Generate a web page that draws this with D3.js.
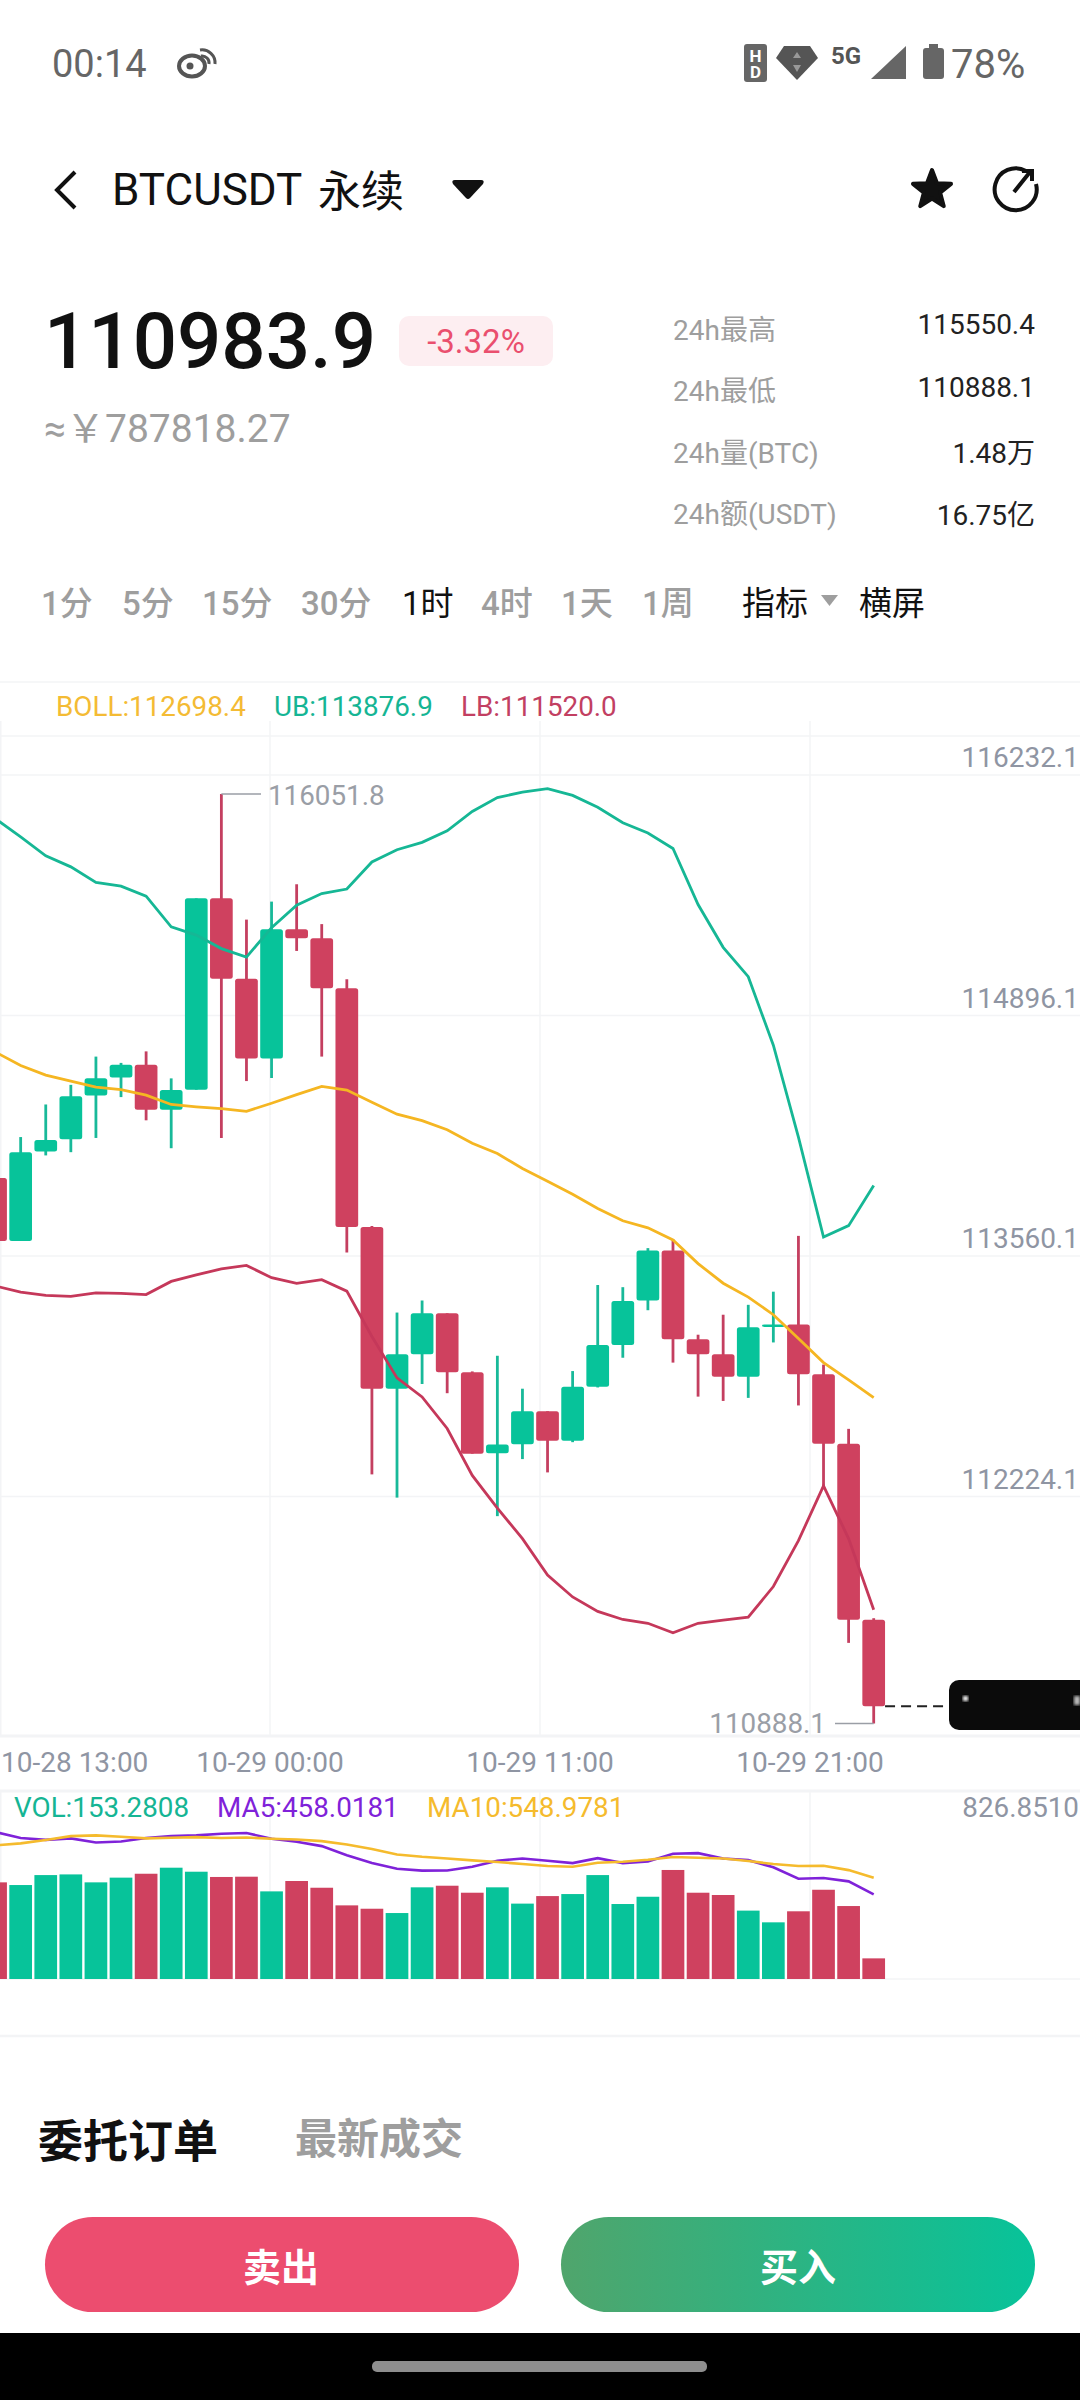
<!DOCTYPE html>
<html lang="zh-CN">
<head>
    <meta charset="UTF-8" />
    <title>BTCUSDT 永续</title>
    <style>
        html, body { margin: 0; padding: 0; background: #fff; }
        svg { display: block; }
        text { font-family: Roboto, "Noto Sans CJK SC", sans-serif; }
    </style>
</head>
<body>
    <svg id="svg" width="1080" height="2400"></svg>
    <script src="https://cdn.jsdelivr.net/npm/d3@7"></script>
    <script>
        // one candle per hour (first one is cut by the left edge)
        const opens = [113919,113569,114066,114134,114377,114477,114547,114298,114409,115472,115025,114583,115300,115250,114973,113647,112748,112940,113167,112840,112389,112440,112623,112459,112759,112991,113238,113516,113023,112940,112814,113093,113105,112829,112442,111464];
        const closes = [113569,114062,114130,114373,114472,114547,114298,114407,115472,115025,114583,115300,115250,114973,113647,112748,112940,113167,112840,112387,112438,112623,112459,112759,112991,113235,113516,113023,112940,112814,113089,113105,112829,112442,111464,110983.9];
        const highs = [113991,114146,114327,114436,114593,114558,114622,114472,115472,116051.8,115354,115454,115550.4,115329,115023,113652,113171,113238,113167,112844,112931,112748,112623,112846,113324,113312,113529,113578,113048,113159,113214,113287,113597,112882,112525,111473];
        const lows = [113519,113569,114044,114062,114141,114368,114239,114084,114409,114141,114457,114474,115180,114593,113504,112272,112143,112774,112723,112387,112040,112357,112283,112451,112755,112920,113184,112893,112704,112680,112697,113005,112655,112202,111336,110888.1];

        const bollUb = [115914,115813,115708,115647,115561,115540,115484,115314,115268,115193,115146,115309,115434,115499,115524,115674,115742,115783,115847,115955,116032,116062,116082,116044,115978,115892,115835,115749,115438,115200,115037,114656,114146,113590,113654,113876.9];
        const bollMid = [114618,114543,114490,114457,114423,114409,114379,114327,114314,114304,114289,114334,114382,114427,114407,114339,114273,114237,114187,114112,114055,113971,113901,113828,113749,113681,113642,113574,113443,113334,113257,113159,113027,112893,112797,112698.4];
        const bollLb = [113318,113284,113267,113261,113280,113278,113271,113344,113380,113414,113433,113365,113333,113354,113290,113038,112808,112702,112527,112266,112085,111915,111713,111591,111511,111466,111445,111392,111445,111462,111479,111649,111904,112208,111915,111520.0];

        const volumes = [718,698,772,777,718,753,782,826.851,797,758,760,651,728,678,547,522,490,681,693,641,681,560,616,631,772,557,611,810,641,624,508,421,503,663,542,153.2808];
        const ma5 = [796,764,754,762,740,745,764,774,778,787,791,760,744,720,671,628,597,587,588,608,641,653,641,628,655,628,637,679,682,653,644,605,543,547,529,458.0181];
        const ma10 = [724,735,753,774,778,771,762,765,769,764,767,760,756,747,729,704,675,662,653,643,634,623,612,608,630,635,646,661,657,653,639,623,612,614,590,548.9781];

        const priceTicks = [116232.1, 114896.1, 113560.1, 112224.1];
        const timeLabels = ["10-28 13:00", "10-29 00:00", "10-29 11:00", "10-29 21:00"];
        const intervals = ["1分", "5分", "15分", "30分", "1时", "4时", "1天", "1周"];
        const statNames = ["24h最高", "24h最低", "24h量(BTC)", "24h额(USDT)"];
        const statValues = ["115550.4", "110888.1", "1.48万", "16.75亿"];

        const GREEN = "#07c39a", RED = "#cf415f", GRID = "#f3f4f6";
        const AXIS_TEXT = "#8f95a3", LIGHT = "#9e9e9e";

        const svg = d3.select("#svg");
        const defs = svg.append("defs");

        function label(parent, x, y, str, size, fill, anchor, weight) {
            return parent.append("text")
                .attr("x", x).attr("y", y)
                .attr("font-size", size)
                .attr("fill", fill)
                .attr("text-anchor", anchor || "start")
                .attr("font-weight", weight || 400)
                .text(str);
        }

        // scales
        const x = d3.scaleLinear().domain([0, 35]).range([-4.43, 873.7]);
        const gridX = d3.scaleLinear().domain([0, 4]).range([0, 1080]);
        const y = d3.scaleLinear().domain([110888.1, 116051.8]).range([1723.5, 794]);
        const yVol = d3.scaleLinear().domain([0, 826.851]).range([1979, 1867.7]);
        const yMa = d3.scaleLinear().domain([0, 826.851]).range([1979, 1826.4]);
        const bodyW = 22.7;
        const idx = d3.range(opens.length);
        const isUp = (i) => closes[i] >= opens[i];

        // ---------- status bar and header
        const head = svg.append("g");
        label(head, 52, 77, "00:14", 38, "#666");
        // weibo icon
        const wb = head.append("g").attr("stroke", "#555").attr("fill", "none");
        wb.append("ellipse").attr("cx", 192).attr("cy", 66).attr("rx", 13).attr("ry", 10.5).attr("stroke-width", 4);
        wb.append("circle").attr("cx", 190).attr("cy", 66).attr("r", 3.5).attr("fill", "#555").attr("stroke", "none");
        wb.append("path").attr("d", "M200 50 a13 13 0 0 1 15 14").attr("stroke-width", 3);
        wb.append("path").attr("d", "M201 56 a7 7 0 0 1 8 8").attr("stroke-width", 3);
        // HD
        head.append("rect").attr("x", 744).attr("y", 44).attr("width", 23).attr("height", 38).attr("rx", 3).attr("fill", "#666");
        label(head, 755.5, 62, "H", 17, "#fff", "middle", 700);
        label(head, 755.5, 78, "D", 17, "#fff", "middle", 700);
        // wifi diamond
        head.append("path").attr("d", "M784 46 H810 L818 58 L797 80 L776 58 Z").attr("fill", "#555");
        head.append("path").attr("d", "M797 52 L801 58 H793 Z M797 72 L801 65 H793 Z").attr("fill", "#999");
        label(head, 831, 64, "5G", 24, "#555", "start", 700);
        head.append("path").attr("d", "M906 46 V79 H871 Z").attr("fill", "#666");
        // battery
        head.append("rect").attr("x", 929).attr("y", 44).attr("width", 9).attr("height", 5).attr("fill", "#666");
        head.append("rect").attr("x", 923).attr("y", 48).attr("width", 21).attr("height", 31).attr("rx", 3).attr("fill", "#666");
        label(head, 951, 78, "78%", 40, "#666");

        // back, title, dropdown
        head.append("path").attr("d", "M75 172 L57 190 L75 208").attr("fill", "none").attr("stroke", "#111").attr("stroke-width", 4);
        label(head, 112, 205, "BTCUSDT", 44, "#111");
        label(head, 318, 207, "永续", 43, "#111");
        head.append("path").attr("d", "M455 180 H481 Q485 180 483 184 L470 198 Q468 200 466 198 L453 184 Q451 180 455 180 Z").attr("fill", "#111");
        // star
        const star = d3.range(10).map((i) => {
            const r = i % 2 ? 8.5 : 20, a = -Math.PI / 2 + i * Math.PI / 5;
            return [932 + r * Math.cos(a), 190 + r * Math.sin(a)];
        });
        head.append("path").attr("d", d3.line().curve(d3.curveLinearClosed)(star))
            .attr("fill", "#111").attr("stroke", "#111").attr("stroke-width", 4).attr("stroke-linejoin", "round");
        // share
        head.append("path").attr("d", "M1026 171 A21 21 0 1 0 1036 184").attr("fill", "none").attr("stroke", "#111").attr("stroke-width", 4);
        head.append("path").attr("d", "M1014 192 L1030 172 M1022 171 H1032 V181").attr("fill", "none").attr("stroke", "#111").attr("stroke-width", 4);

        // ---------- price block
        label(head, 44, 368, "110983.9", 78, "#111", "start", 500);
        head.append("rect").attr("x", 399).attr("y", 316).attr("width", 154).attr("height", 50).attr("rx", 10).attr("fill", "#fdeef1");
        label(head, 476, 353, "-3.32%", 33, "#ea4f6e", "middle");
        label(head, 44, 442, "≈￥787818.27", 39, LIGHT);

        const statLabelY = [340, 401, 463, 524];
        const statValueY = [334, 397, 463, 525];
        statNames.forEach((s, i) => {
            label(head, 673, statLabelY[i], s, 28, LIGHT);
            label(head, 1035, statValueY[i], statValues[i], 28, "#222", "end");
        });

        // ---------- interval tabs
        const intervalX = [41, 122, 202, 301, 402, 481, 561, 642];
        intervals.forEach((s, i) => {
            label(head, intervalX[i], 615, s, 33, i === 4 ? "#111" : LIGHT, "start", i === 4 ? 400 : 500);
        });
        label(head, 742, 615, "指标", 33, "#111");
        head.append("path").attr("d", "M821 595 H838 L829.5 606 Z").attr("fill", LIGHT);
        label(head, 859, 615, "横屏", 33, "#111");

        // ---------- grid
        const grid = svg.append("g");
        const hLine = (yy, w) => grid.append("line").attr("x1", 0).attr("x2", 1080)
            .attr("y1", yy).attr("y2", yy).attr("stroke", GRID).attr("stroke-width", w || 1.5);
        hLine(682); hLine(736); hLine(1736, 3); hLine(1791, 3); hLine(1979); hLine(2036, 2.5);
        // grid rows sit a little below the price they are labelled with
        const gridOffset = 13.5;
        priceTicks.forEach((p) => hLine(y(p) + gridOffset));
        d3.range(0, 4).forEach((k) => {
            const xx = Math.max(gridX(k), 0.75);
            grid.append("line").attr("x1", xx).attr("x2", xx).attr("y1", 721).attr("y2", 1736)
                .attr("stroke", GRID).attr("stroke-width", 1.5);
            grid.append("line").attr("x1", xx).attr("x2", xx).attr("y1", 1791).attr("y2", 1979)
                .attr("stroke", GRID).attr("stroke-width", 1.5);
        });

        // ---------- legend of main chart
        label(svg, 56, 716, "BOLL:112698.4", 27.8, "#f4bb34");
        label(svg, 274, 716, "UB:113876.9", 27.8, "#15b594");
        label(svg, 461, 716, "LB:111520.0", 27.8, "#c23f62");

        // ---------- price axis (right)
        const axis = d3.axisRight(y).tickValues(priceTicks).tickSize(0).tickFormat(d3.format(".1f"));
        const axisG = svg.append("g").attr("transform", "translate(1079,0)").call(axis);
        axisG.select(".domain").remove();
        axisG.selectAll("text")
            .attr("x", 0).attr("dy", "0.18em")
            .attr("text-anchor", "end")
            .attr("fill", AXIS_TEXT).attr("font-size", 28)
            .style("font-family", 'Roboto, "Noto Sans CJK SC", sans-serif');

        // ---------- candles
        const candles = svg.append("g");
        candles.selectAll("line").data(idx).enter().append("line")
            .attr("x1", (i) => x(i)).attr("x2", (i) => x(i))
            .attr("y1", (i) => y(highs[i])).attr("y2", (i) => y(lows[i]))
            .attr("stroke", (i) => isUp(i) ? "#18b999" : "#c43f60")
            .attr("stroke-width", 2.8);
        candles.selectAll("rect").data(idx).enter().append("rect")
            .attr("x", (i) => x(i) - bodyW / 2)
            .attr("width", bodyW)
            .attr("y", (i) => y(Math.max(opens[i], closes[i])))
            .attr("height", (i) => Math.max(2.5, Math.abs(y(opens[i]) - y(closes[i]))))
            .attr("rx", 2.5)
            .attr("fill", (i) => isUp(i) ? GREEN : RED);

        // ---------- bollinger lines
        const priceLine = d3.line().x((d, i) => x(i)).y((d) => y(d));
        [[bollUb, "#16b795"], [bollMid, "#f5b622"], [bollLb, "#c5385a"]].forEach(([s, c]) => {
            svg.append("path").attr("d", priceLine(s))
                .attr("fill", "none").attr("stroke", c).attr("stroke-width", 2.8);
        });

        // ---------- high / low markers
        const markColor = "#9a9ea6";
        svg.append("line").attr("x1", x(9)).attr("x2", 261).attr("y1", y(116051.8)).attr("y2", y(116051.8))
            .attr("stroke", markColor).attr("stroke-width", 1.6);
        label(svg, 268, y(116051.8) + 10.5, "116051.8", 27.8, markColor);
        svg.append("line").attr("x1", 835).attr("x2", x(35)).attr("y1", y(110888.1)).attr("y2", y(110888.1))
            .attr("stroke", markColor).attr("stroke-width", 1.6);
        label(svg, 826, y(110888.1) + 9.5, "110888.1", 27.8, markColor, "end");

        // ---------- last price marker
        const lastY = y(closes[35]);
        svg.append("line").attr("x1", x(35) + bodyW / 2).attr("x2", 949).attr("y1", lastY).attr("y2", lastY)
            .attr("stroke", "#222").attr("stroke-width", 1.8).attr("stroke-dasharray", "10 6");
        svg.append("rect").attr("x", 949).attr("y", 1680).attr("width", 140).attr("height", 50).attr("rx", 10).attr("fill", "#0b0b0b");
        defs.append("filter").attr("id", "soft").append("feGaussianBlur").attr("stdDeviation", 1.6);
        svg.append("rect").attr("x", 963).attr("y", 1696).attr("width", 5).attr("height", 5).attr("fill", "#fff").attr("filter", "url(#soft)");
        svg.append("rect").attr("x", 1074).attr("y", 1696).attr("width", 6).attr("height", 9).attr("fill", "#bbb").attr("filter", "url(#soft)");

        // ---------- time labels
        timeLabels.forEach((s, k) => {
            if (k === 0) label(svg, 1, 1772, s, 28, AXIS_TEXT);
            else label(svg, gridX(k), 1772, s, 28, AXIS_TEXT, "middle");
        });

        // ---------- volume panel
        label(svg, 14, 1817, "VOL:153.2808", 27.8, "#15b594");
        label(svg, 217, 1817, "MA5:458.0181", 27.8, "#7f22d9");
        label(svg, 427, 1817, "MA10:548.9781", 27.8, "#f5bb2d");
        label(svg, 1079, 1817, "826.8510", 27.8, AXIS_TEXT, "end");

        svg.append("g").selectAll("rect").data(idx).enter().append("rect")
            .attr("x", (i) => x(i) - bodyW / 2)
            .attr("width", bodyW)
            .attr("y", (i) => yVol(volumes[i]))
            .attr("height", (i) => yVol(0) - yVol(volumes[i]))
            .attr("fill", (i) => isUp(i) ? GREEN : RED);

        const maLine = d3.line().x((d, i) => x(i)).y((d) => yMa(d));
        svg.append("path").attr("d", maLine(ma5)).attr("fill", "none").attr("stroke", "#7f22d9").attr("stroke-width", 2.6);
        svg.append("path").attr("d", maLine(ma10)).attr("fill", "none").attr("stroke", "#f5bb2d").attr("stroke-width", 2.6);

        // ---------- bottom tabs and buttons
        label(svg, 38, 2158, "委托订单", 45, "#111", "start", 700);
        label(svg, 295, 2154, "最新成交", 42, "#9e9e9e", "start", 700);

        const grad = defs.append("linearGradient").attr("id", "buyGrad");
        grad.append("stop").attr("offset", "0%").attr("stop-color", "#50a56c");
        grad.append("stop").attr("offset", "100%").attr("stop-color", "#07c39a");
        svg.append("rect").attr("x", 45).attr("y", 2217).attr("width", 474).attr("height", 95).attr("rx", 47.5).attr("fill", "#ec4d6f");
        svg.append("rect").attr("x", 561).attr("y", 2217).attr("width", 474).attr("height", 95).attr("rx", 47.5).attr("fill", "url(#buyGrad)");
        label(svg, 281, 2281, "卖出", 38, "#fff", "middle", 700);
        label(svg, 798, 2281, "买入", 38, "#fff", "middle", 700);

        svg.append("rect").attr("x", 0).attr("y", 2333).attr("width", 1080).attr("height", 67).attr("fill", "#000");
        svg.append("rect").attr("x", 372).attr("y", 2361).attr("width", 335).attr("height", 11).attr("rx", 5).attr("fill", "#8e8e8e");
    </script>
</body>
</html>
